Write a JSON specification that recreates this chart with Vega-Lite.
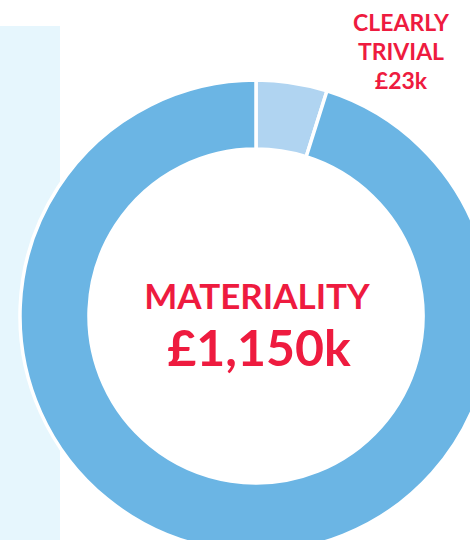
{
  "$schema": "https://vega.github.io/schema/vega-lite/v6.json",
  "width": 512,
  "height": 632,
  "padding": 0,
  "autosize": {"type": "none"},
  "background": "white",
  "config": {"view": {"stroke": null}},
  "layer": [
    {
      "data": {"values": [{"panel": "background"}]},
      "mark": {"type": "rect", "x": 0, "x2": 60, "y": 26, "y2": 632, "color": "#e6f6fd"},
      "encoding": {}
    },
    {
      "data": {"values": [
        {"category": "Clearly trivial", "share": 4.86, "order": 1},
        {"category": "Materiality", "share": 95.14, "order": 2}
      ]},
      "mark": {"type": "arc", "outerRadius": 236, "innerRadius": 167, "stroke": "white", "strokeWidth": 3.5},
      "encoding": {
        "theta": {"field": "share", "type": "quantitative", "stack": true},
        "order": {"field": "order", "type": "quantitative"},
        "color": {
          "field": "category",
          "type": "nominal",
          "scale": {"domain": ["Clearly trivial", "Materiality"], "range": ["#b0d4f1", "#6bb5e4"]},
          "legend": null
        }
      }
    },
    {
      "data": {"values": [{"label": "MATERIALITY"}]},
      "mark": {"type": "text", "font": "Lato", "fontWeight": "bold", "fontSize": 35, "color": "#ee1b3f", "align": "center", "baseline": "alphabetic", "dx": 1, "dy": -7},
      "encoding": {"text": {"field": "label"}}
    },
    {
      "data": {"values": [{"label": "£1,150k"}]},
      "mark": {"type": "text", "font": "Lato", "fontWeight": "bold", "fontSize": 50, "color": "#ee1b3f", "align": "center", "baseline": "alphabetic", "dx": 3, "dy": 50, "letterSpacing": 5},
      "encoding": {"text": {"field": "label"}}
    },
    {
      "data": {"values": [{"label": ["CLEARLY", "TRIVIAL", "£23k"]}]},
      "mark": {"type": "text", "font": "Lato", "fontWeight": "bold", "fontSize": 23, "lineHeight": 29, "color": "#ee1b3f", "align": "center", "baseline": "alphabetic", "dx": 145, "dy": -285},
      "encoding": {"text": {"field": "label"}}
    }
  ]
}
